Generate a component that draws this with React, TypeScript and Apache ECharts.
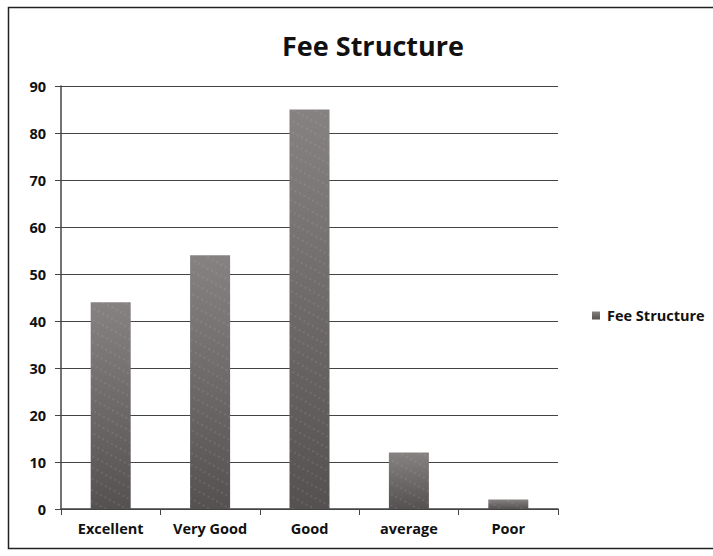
import React, { useEffect, useRef } from "react";
import * as echarts from "echarts";

const categories = ["Excellent", "Very Good", "Good", "average", "Poor"];
const feeStructure = [44, 54, 85, 12, 2];
const seriesName = "Fee Structure";
const titleText = "Fee Structure";

export default function App() {
  const ref = useRef<HTMLDivElement>(null);
  useEffect(() => {
    if (!ref.current) return;
    const chart = echarts.init(ref.current, null, { renderer: "svg" });
    const font = "'Open Sans', sans-serif";
    chart.setOption({
      animation: false,
      backgroundColor: "#ffffff",
      aria: { enabled: true, decal: { show: true } },
      title: {
        text: titleText,
        left: 368,
        textAlign: "center",
        top: 27,
        textStyle: { fontFamily: font, fontSize: 27, fontWeight: "bold", color: "#111" },
      },
      legend: {
        left: 587,
        top: 303,
        itemWidth: 8,
        itemHeight: 8,
        itemGap: 4,
        icon: "rect",
        data: [seriesName],
        textStyle: { fontFamily: font, fontSize: 14.5, fontWeight: "bold", color: "#111", padding: [0, 0, 0, 2] },
      },
      graphic: [
        {
          type: "rect",
          shape: { x: 8.5, y: 7.5, width: 710, height: 541 },
          style: { fill: "none", stroke: "#222", lineWidth: 1.5 },
          silent: true,
        },
      ],
      grid: { left: 61, top: 86, width: 497, height: 423 },
      xAxis: {
        type: "category",
        data: categories,
        axisLine: { lineStyle: { color: "#444", width: 1.5 } },
        axisTick: { show: true, length: 6, lineStyle: { color: "#444" } },
        axisLabel: { fontFamily: font, fontSize: 14.5, fontWeight: "bold", color: "#111", margin: 12 },
      },
      yAxis: {
        type: "value",
        min: 0,
        max: 90,
        interval: 10,
        axisLine: { show: true, lineStyle: { color: "#444", width: 1.5 } },
        axisTick: { show: true, length: 6, lineStyle: { color: "#444" } },
        axisLabel: { fontFamily: font, fontSize: 14.5, fontWeight: "bold", color: "#111", margin: 15 },
        splitLine: { lineStyle: { color: "#444", width: 1.2 } },
      },
      series: [
        {
          name: seriesName,
          type: "bar",
          data: feeStructure,
          barWidth: 40,
          itemStyle: {
            color: new echarts.graphic.LinearGradient(0, 0, 0, 1, [
              { offset: 0, color: "#878282" },
              { offset: 1, color: "#565151" },
            ]),
            decal: {
              symbol: "circle",
              symbolSize: 0.6,
              dashArrayX: [[2, 3], [1, 4]],
              dashArrayY: [2, 3],
              rotation: 0.5,
              color: "rgba(210,205,205,0.35)",
            },
          },
        },
      ],
    });
    return () => chart.dispose();
  }, []);
  return (
    <div
      ref={ref}
      style={{ position: "absolute", left: 0, top: 0, width: 713, height: 556 }}
    />
  );
}
